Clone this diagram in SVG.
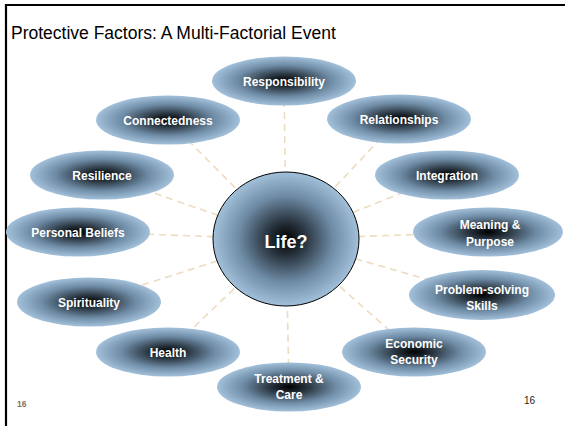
<svg xmlns="http://www.w3.org/2000/svg" width="565" height="426" viewBox="0 0 565 426">
  <defs>
    <radialGradient id="g" cx="50%" cy="50%" r="50%">
      <stop offset="0" stop-color="#000000"/>
      <stop offset="0.25" stop-color="#26313b"/>
      <stop offset="0.65" stop-color="#6f8ca6"/>
      <stop offset="1" stop-color="#a2c0d9"/>
    </radialGradient>
  </defs>
  <style>
    .node { fill: url(#g); }
    .lbl { font-family: "Liberation Sans", Arial, sans-serif; font-weight: bold; font-size: 12px; fill: #ffffff; text-anchor: middle; }
    .conn line { stroke: #ecdcc0; stroke-width: 1.6; stroke-dasharray: 7 5; }
    .frame { stroke: #000; stroke-width: 2.2; fill: none; }
  </style>
  <rect width="565" height="426" fill="#ffffff"/>
  <path class="frame" d="M6,426 V5 H565"/>
  <text x="11" y="39" font-family="'Liberation Sans', Arial, sans-serif" font-size="17.5" fill="#000">Protective Factors: A Multi-Factorial Event</text>

  <g id="connectors" class="conn">
    <line x1="286" y1="239" x2="284" y2="81"/>
    <line x1="286" y1="239" x2="399" y2="119"/>
    <line x1="286" y1="239" x2="168" y2="120"/>
    <line x1="286" y1="239" x2="102" y2="175"/>
    <line x1="286" y1="239" x2="78" y2="232"/>
    <line x1="286" y1="239" x2="89" y2="302"/>
    <line x1="286" y1="239" x2="168" y2="352"/>
    <line x1="286" y1="239" x2="289" y2="387"/>
    <line x1="286" y1="239" x2="414" y2="352"/>
    <line x1="286" y1="239" x2="482" y2="295"/>
    <line x1="286" y1="239" x2="488" y2="232"/>
    <line x1="286" y1="239" x2="447" y2="175"/>
  </g>

  <g id="n-responsibility"><ellipse class="node" cx="284" cy="81" rx="72" ry="24.5"/><text class="lbl" x="284" y="86">Responsibility</text></g>
  <g id="n-relationships"><ellipse class="node" cx="399" cy="119" rx="72" ry="24.5"/><text class="lbl" x="399" y="124">Relationships</text></g>
  <g id="n-connectedness"><ellipse class="node" cx="168" cy="120" rx="72" ry="24.5"/><text class="lbl" x="168" y="125">Connectedness</text></g>
  <g id="n-resilience"><ellipse class="node" cx="102" cy="175" rx="72" ry="24.5"/><text class="lbl" x="102" y="180">Resilience</text></g>
  <g id="n-personal-beliefs"><ellipse class="node" cx="78" cy="232" rx="72" ry="24.5"/><text class="lbl" x="78" y="237">Personal Beliefs</text></g>
  <g id="n-spirituality"><ellipse class="node" cx="89" cy="302" rx="72" ry="24.5"/><text class="lbl" x="89" y="307">Spirituality</text></g>
  <g id="n-health"><ellipse class="node" cx="168" cy="352" rx="72" ry="24.5"/><text class="lbl" x="168" y="357">Health</text></g>
  <g id="n-treatment"><ellipse class="node" cx="289" cy="387" rx="72" ry="24.5"/><text class="lbl" x="289" y="383">Treatment &amp;</text><text class="lbl" x="289" y="399">Care</text></g>
  <g id="n-economic"><ellipse class="node" cx="414" cy="352" rx="72" ry="24.5"/><text class="lbl" x="414" y="348">Economic</text><text class="lbl" x="414" y="364">Security</text></g>
  <g id="n-problem"><ellipse class="node" cx="482" cy="295" rx="73" ry="25"/><text class="lbl" x="482" y="294">Problem-solving</text><text class="lbl" x="482" y="310">Skills</text></g>
  <g id="n-meaning"><ellipse class="node" cx="488" cy="232" rx="75" ry="24.5"/><text class="lbl" x="490" y="229">Meaning &amp;</text><text class="lbl" x="490" y="246">Purpose</text></g>
  <g id="n-integration"><ellipse class="node" cx="447" cy="175" rx="72" ry="24.5"/><text class="lbl" x="447" y="180">Integration</text></g>

  <g id="n-life"><ellipse cx="286" cy="239" rx="73" ry="67" fill="url(#g)" stroke="#000" stroke-width="1"/><text class="lbl" x="286" y="248" style="font-size:18px">Life?</text></g>

  <text x="17" y="407" font-family="'Liberation Sans', Arial, sans-serif" font-weight="bold" font-size="8.5" fill="#8a6f5e">16</text>
  <text x="524" y="404" font-family="'Liberation Sans', Arial, sans-serif" font-size="10" fill="#222">16</text>
</svg>
